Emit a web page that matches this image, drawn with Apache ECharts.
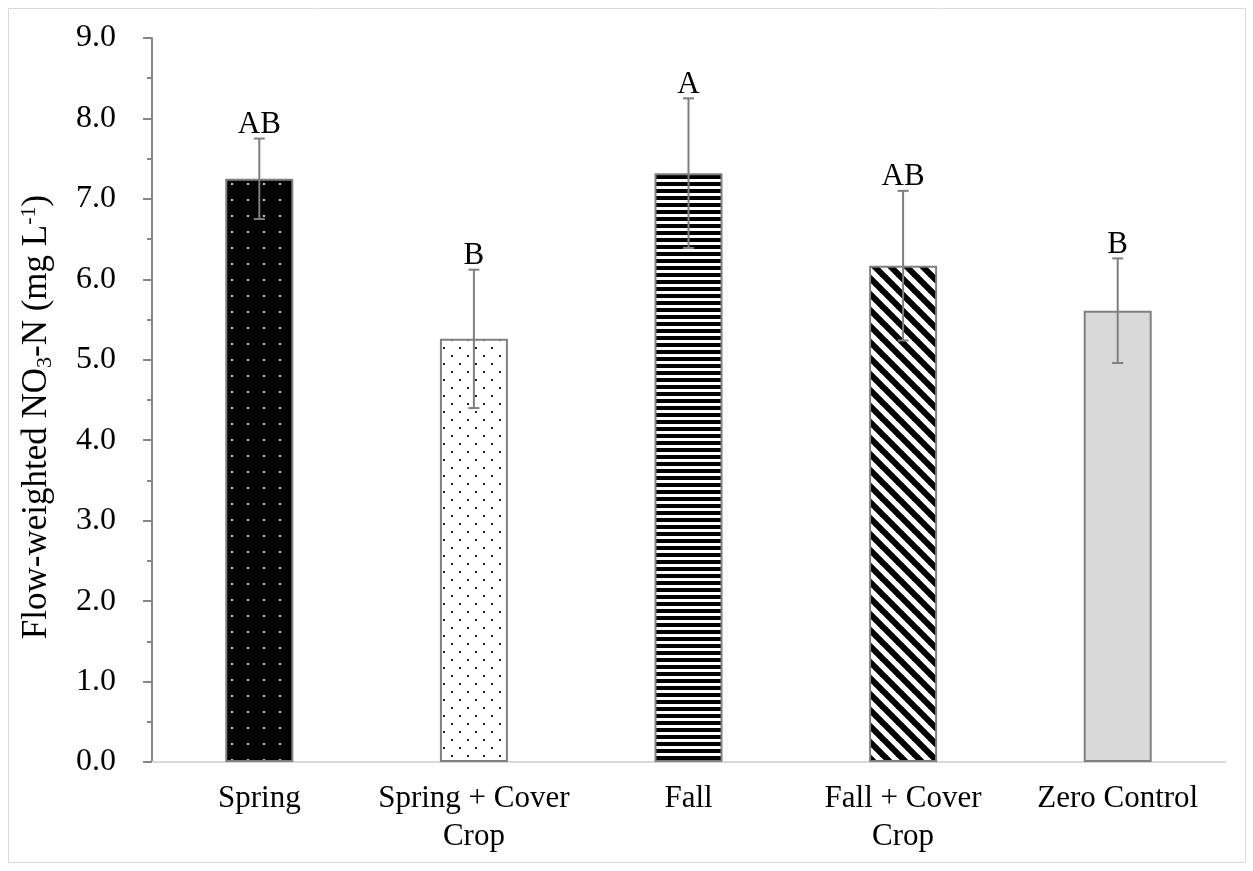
<!DOCTYPE html>
<html>
<head>
<meta charset="utf-8">
<script src="https://cdn.jsdelivr.net/npm/echarts@6/dist/echarts.min.js"></script>
<style>
  html, body { margin: 0; padding: 0; background: #fff; }
  #chart { width: 1253px; height: 871px; }
</style>
</head>
<body>
<div id="chart"></div>
<script>
var categories = ['Spring', 'Spring + Cover\nCrop', 'Fall', 'Fall + Cover\nCrop', 'Zero Control'];
var means = [7.25, 5.26, 7.32, 6.17, 5.61];
var errors = [0.50, 0.86, 0.93, 0.93, 0.65];
var letters = ['AB', 'B', 'A', 'AB', 'B'];

var FONT = '"Liberation Serif", "Times New Roman", serif';

// little canvas tiles for the bar fills
function tile(w, h, draw) {
    var c = document.createElement('canvas');
    c.width = w; c.height = h;
    draw(c.getContext('2d'));
    return { image: c, repeat: 'repeat' };
}
var fills = [
    tile(16, 16, function (g) {
        g.fillStyle = '#000'; g.fillRect(0, 0, 16, 16);
        g.fillStyle = '#c8c8c8'; g.fillRect(7, 7, 2, 2);
    }),
    tile(16, 16, function (g) {
        g.fillStyle = '#fff'; g.fillRect(0, 0, 16, 16);
        g.fillStyle = '#222'; g.fillRect(3, 3, 2, 2); g.fillRect(11, 11, 2, 2);
    }),
    tile(7, 7, function (g) {
        g.fillStyle = '#fff'; g.fillRect(0, 0, 7, 7);
        g.fillStyle = '#000'; g.fillRect(0, 0, 7, 4);
    }),
    tile(16, 16, function (g) {
        g.fillStyle = '#fff'; g.fillRect(0, 0, 16, 16);
        g.strokeStyle = '#000'; g.lineWidth = 6;
        [-16, 0, 16].forEach(function (c) {
            g.beginPath(); g.moveTo(-4, -4 + c); g.lineTo(20, 20 + c); g.stroke();
        });
    }),
    '#d9d9d9'
];

var barData = means.map(function (v, i) {
    return { value: v, itemStyle: { color: fills[i] } };
});
var errData = means.map(function (v, i) { return [i, v, errors[i]]; });

var myChart = echarts.init(document.getElementById('chart'));
var option = {
    animation: false,
    backgroundColor: '#fff',
    graphic: [{
        type: 'rect',
        shape: { x: 8.5, y: 8.5, width: 1237, height: 854 },
        style: { fill: 'none', stroke: '#d9d9d9', lineWidth: 1 },
        silent: true
    }],
    grid: { left: 152, right: 28, top: 38, bottom: 109 },
    xAxis: {
        type: 'category',
        data: categories,
        axisLine: { lineStyle: { color: '#d9d9d9', width: 2 } },
        axisTick: { show: false },
        axisLabel: {
            color: '#000', fontFamily: FONT, fontSize: 31, lineHeight: 38, margin: 18,
            interval: 0
        }
    },
    yAxis: {
        type: 'value',
        min: 0, max: 9, interval: 1,
        name: '{n|Flow-weighted NO}{sub|3}{n|-N (mg L}{sup|-1}{n|)}',
        nameLocation: 'middle',
        nameGap: 96,
        nameRotate: 90,
        nameTextStyle: {
            color: '#000', fontFamily: FONT, fontSize: 35,
            padding: [0, 34, 0, 0],
            rich: {
                n: { fontFamily: FONT, fontSize: 35, lineHeight: 38, color: '#000' },
                sub: { fontFamily: FONT, fontSize: 22, lineHeight: 21, verticalAlign: 'bottom', color: '#000' },
                sup: { fontFamily: FONT, fontSize: 22, lineHeight: 21, verticalAlign: 'top', color: '#000' }
            }
        },
        axisLine: { show: true, lineStyle: { color: '#868686', width: 2 } },
        axisTick: { show: true, length: 9, lineStyle: { color: '#868686', width: 2 } },
        minorTick: { show: true, splitNumber: 2, length: 5, lineStyle: { color: '#868686', width: 2 } },
        splitLine: { show: false },
        axisLabel: {
            color: '#000', fontFamily: FONT, fontSize: 32, margin: 36,
            formatter: function (v) { return v.toFixed(1); }
        }
    },
    series: [{
        type: 'bar',
        data: barData,
        barWidth: 68,
        itemStyle: { borderColor: '#808080', borderWidth: 2 }
    }, {
        type: 'custom',
        data: errData,
        z: 10,
        renderItem: function (params, api) {
            var i = api.value(0), m = api.value(1), e = api.value(2);
            var top = api.coord([i, m + e]);
            var bot = api.coord([i, m - e]);
            var hw = 5.5;
            var ls = { stroke: '#7f7f7f', lineWidth: 2 };
            return {
                type: 'group',
                children: [
                    { type: 'line', shape: { x1: top[0], y1: top[1], x2: bot[0], y2: bot[1] }, style: ls },
                    { type: 'line', shape: { x1: top[0] - hw, y1: top[1], x2: top[0] + hw, y2: top[1] }, style: ls },
                    { type: 'line', shape: { x1: bot[0] - hw, y1: bot[1], x2: bot[0] + hw, y2: bot[1] }, style: ls },
                    {
                        type: 'text',
                        style: {
                            text: letters[params.dataIndex],
                            x: top[0], y: top[1] + 2,
                            align: 'center', verticalAlign: 'bottom',
                            font: '31px ' + FONT, fill: '#000'
                        }
                    }
                ]
            };
        }
    }]
};
myChart.setOption(option);
</script>
</body>
</html>
